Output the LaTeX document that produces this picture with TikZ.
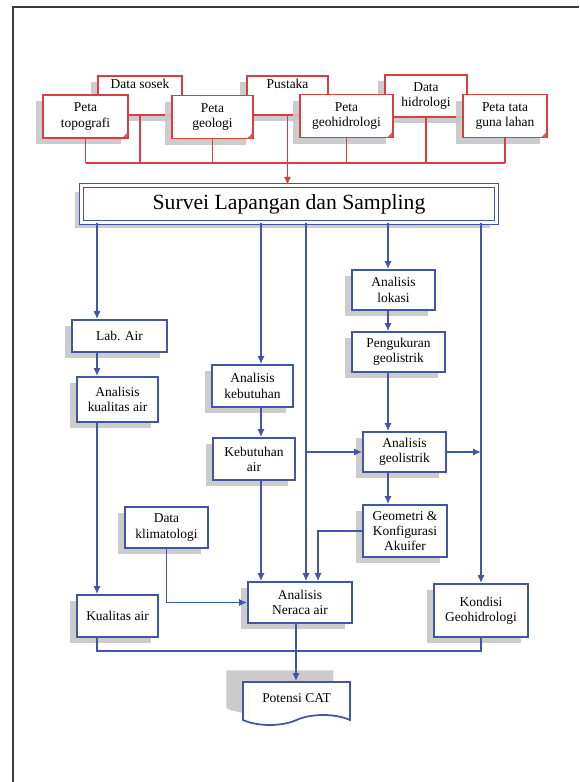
\documentclass[tikz,border=0pt]{standalone}
\usepackage{fontspec}
\setmainfont{Liberation Serif}
\usetikzlibrary{arrows.meta, positioning, calc, shadows, shapes.symbols}
\definecolor{flowblue}{RGB}{66,86,168}
\definecolor{srcred}{RGB}{214,64,64}
\definecolor{framegray}{RGB}{60,60,60}

\begin{document}
\begin{tikzpicture}[
    x={(0.03cm,0)}, y={(0,-0.03cm)},
    every node/.style={align=center, font=\fontsize{11.5}{13}\selectfont, inner sep=2pt},
    boxshadow/.style={drop shadow={shadow xshift=-2mm, shadow yshift=-1.8mm, fill=black!22, opacity=.9}},
    srcbox/.style={draw=srcred, line width=1.6pt, fill=white, boxshadow,
        path picture={\fill[srcred!85] ([xshift=-5pt]path picture bounding box.south east)
            -- (path picture bounding box.south east)
            -- ([yshift=5pt]path picture bounding box.south east) -- cycle;}},
    stepbox/.style={draw=flowblue, line width=1.5pt, fill=white, boxshadow},
    titlebox/.style={draw=flowblue, line width=1.4pt, double=white, double distance=2pt,
        fill=white, boxshadow, minimum width=12.45cm, minimum height=1.1cm,
        font=\fontsize{18.5}{22}\selectfont},
    outbox/.style={draw=flowblue, line width=1.5pt, fill=white, shape=tape,
        tape bend top=none, tape bend height=3mm,
        drop shadow={shadow xshift=-5mm, shadow yshift=3.5mm, fill=black!22, opacity=.9}},
    flow/.style={flowblue, line width=1.4pt, -{Latex[length=2.4mm,width=2.2mm]}},
    link/.style={flowblue, line width=1.4pt},
    redlink/.style={srcred, line width=1.4pt},
    redflow/.style={redlink, -{Latex[length=2.4mm,width=2.2mm]}}
]
\useasboundingbox (0,0) rectangle (579,782);
\draw[framegray, line width=1.6pt] (13,782) -- (13,7) -- (579,7);

\node[srcbox, anchor=north, minimum width=2.52cm, text height=9pt, text depth=20.7pt] (sosek) at (140,75) {Data sosek};
\node[srcbox, anchor=north, minimum width=2.43cm, text height=9pt, text depth=20.7pt] (pustaka) at (287.5,75) {Pustaka};
\node[srcbox, minimum width=2.46cm, minimum height=1.26cm] (hidro) at (426,96) {Data\\hidrologi};
\node[srcbox, minimum width=2.55cm, minimum height=1.29cm] (topo) at (85.5,116.5) {Peta\\topografi};
\node[srcbox, minimum width=2.43cm, minimum height=1.29cm] (geologi) at (212.5,117) {Peta\\geologi};
\node[srcbox, minimum width=2.79cm, minimum height=1.29cm] (geohidro) at (346.5,116) {Peta\\geohidrologi};
\node[srcbox, minimum width=2.52cm, minimum height=1.29cm] (guna) at (505,116) {Peta tata\\guna lahan};

\node[titlebox] (survei) at (289,204) {Survei Lapangan dan Sampling};

\node[stepbox, minimum width=2.85cm, minimum height=0.96cm] (labair) at (119.5,336) {Lab. Air};
\node[stepbox, minimum width=2.43cm, minimum height=1.35cm] (akual) at (117.5,399.5) {Analisis\\kualitas air};
\node[stepbox, minimum width=2.43cm, minimum height=1.26cm] (kualitas) at (117.5,616) {Kualitas air};
\node[stepbox, minimum width=2.43cm, minimum height=1.26cm] (akebut) at (252.5,386) {Analisis\\kebutuhan};
\node[stepbox, minimum width=2.46cm, minimum height=1.26cm] (kebut) at (254,459) {Kebutuhan\\air};
\node[stepbox, minimum width=2.49cm, minimum height=1.23cm] (klimat) at (166.5,527.5) {Data\\klimatologi};
\node[stepbox, minimum width=3.12cm, minimum height=1.23cm] (neraca) at (300,602.5) {Analisis\\Neraca air};
\node[stepbox, minimum width=2.49cm, minimum height=1.2cm] (alokasi) at (393.5,290) {Analisis\\lokasi};
\node[stepbox, minimum width=2.79cm, minimum height=1.2cm] (ukur) at (398.5,352) {Pengukuran\\geolistrik};
\node[stepbox, minimum width=2.49cm, minimum height=1.2cm] (ageo) at (404.5,452) {Analisis\\geolistrik};
\node[stepbox, minimum width=2.52cm, minimum height=1.56cm] (geom) at (405,531) {Geometri \&\\Konfigurasi\\Akuifer};
\node[stepbox, minimum width=2.82cm, minimum height=1.59cm] (kondisi) at (481,610.5) {Kondisi\\Geohidrologi};
\node[outbox, minimum width=3.21cm, minimum height=1.29cm] (potensi) at (296.5,698.5) {Potensi CAT};

\coordinate (rbus) at (0,163);
\coordinate (bbus) at (0,651);
\coordinate (lA) at (97,0);
\coordinate (lB) at (261,0);
\coordinate (lC) at (306,0);
\coordinate (lD) at (388,0);
\coordinate (lE) at (481,0);
\coordinate (lF) at (318,0);
\coordinate (lG) at (296,0);

\foreach \n in {topo,sosek,geologi,pustaka,geohidro,hidro,guna}
    \draw[redlink] (\n.south) -- (\n.south |- rbus);
\draw[redlink] (topo.south |- rbus) -- (guna.south |- rbus);
\draw[redflow] (pustaka.south |- rbus) -- (pustaka.south |- survei.north);

\draw[flow] (survei.south -| lA) -- (labair.north -| lA);
\draw[flow] (labair.south -| lA) -- (akual.north -| lA);
\draw[flow] (akual.south -| lA) -- (kualitas.north -| lA);
\draw[flow] (survei.south -| lB) -- (akebut.north -| lB);
\draw[flow] (akebut.south -| lB) -- (kebut.north -| lB);
\draw[flow] (kebut.south -| lB) -- (neraca.north -| lB);
\draw[flow] (survei.south -| lC) -- (neraca.north -| lC);
\draw[flow] (ageo.west -| lC) -- (ageo.west);
\draw[flow] (geom.west) -- (geom.west -| lF) -- (neraca.north -| lF);
\draw[flow] (survei.south -| lD) -- (alokasi.north -| lD);
\draw[flow] (alokasi.south -| lD) -- (ukur.north -| lD);
\draw[flow] (ukur.south -| lD) -- (ageo.north -| lD);
\draw[flow] (ageo.south -| lD) -- (geom.north -| lD);
\draw[flow] (survei.south -| lE) -- (kondisi.north -| lE);
\draw[flow] (ageo.east) -- (ageo.east -| lE);
\draw[flow] (klimat.south) |- (neraca.west);
\draw[link] (kualitas.south -| lA) -- (bbus -| lA) -- (bbus -| lE) -- (kondisi.south -| lE);
\draw[flow] (neraca.south -| lG) -- (potensi.north -| lG);
\end{tikzpicture}
\end{document}
